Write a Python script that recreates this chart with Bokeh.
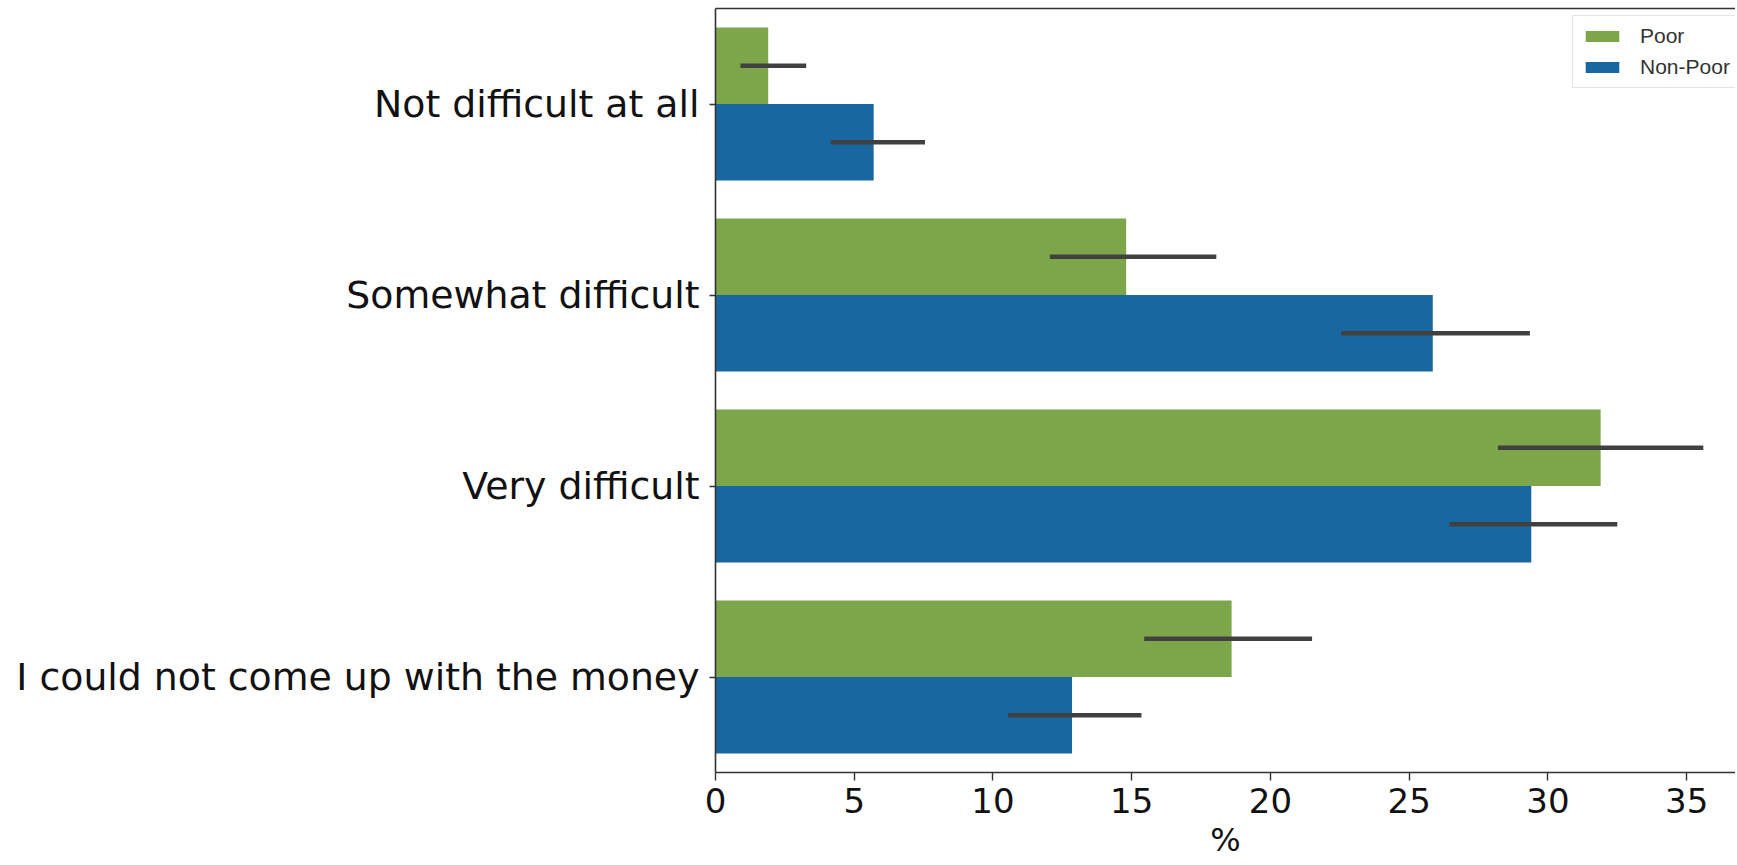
from bokeh.plotting import figure
from bokeh.models import ColumnDataSource, FactorRange, Range1d, LinearAxis, FixedTicker, Legend, LegendItem
from bokeh.transform import dodge
from bokeh.embed import file_html
from bokeh.resources import INLINE

categories = ["Not difficult at all", "Somewhat difficult", "Very difficult",
              "I could not come up with the money"]
poor = [1.9, 14.8, 31.9, 18.6]
poor_lo = [0.9, 12.05, 28.2, 15.45]
poor_hi = [3.27, 18.05, 35.6, 21.5]
nonpoor = [5.7, 25.85, 29.4, 12.85]
nonpoor_lo = [4.15, 22.55, 26.45, 10.55]
nonpoor_hi = [7.55, 29.35, 32.5, 15.35]
x_ticks = [0, 5, 10, 15, 20, 25, 30, 35]

GREEN = "#7da54a"
BLUE = "#1967a0"
ERR = "#404040"

src = ColumnDataSource(dict(cat=categories, poor=poor, poor_lo=poor_lo, poor_hi=poor_hi,
                            nonpoor=nonpoor, nonpoor_lo=nonpoor_lo, nonpoor_hi=nonpoor_hi))

p = figure(y_range=FactorRange(factors=categories[::-1], range_padding=0),
           x_range=Range1d(0, 36.76),
           frame_width=1020, frame_height=764,
           min_border_left=715, min_border_right=0, min_border_top=8, min_border_bottom=0,
           output_backend="svg", toolbar_location=None)
p.outline_line_color = None
p.grid.grid_line_color = None

rp = p.hbar(y=dodge("cat", 0.2, range=p.y_range), right="poor", left=0, height=0.4,
            source=src, fill_color=GREEN, line_color=None)
rn = p.hbar(y=dodge("cat", -0.2, range=p.y_range), right="nonpoor", left=0, height=0.4,
            source=src, fill_color=BLUE, line_color=None)
p.segment(x0="poor_lo", x1="poor_hi", y0=dodge("cat", 0.2, range=p.y_range),
          y1=dodge("cat", 0.2, range=p.y_range), source=src, line_color=ERR, line_width=4.5)
p.segment(x0="nonpoor_lo", x1="nonpoor_hi", y0=dodge("cat", -0.2, range=p.y_range),
          y1=dodge("cat", -0.2, range=p.y_range), source=src, line_color=ERR, line_width=4.5)

# x axis
xa = p.xaxis[0]
xa.ticker = FixedTicker(ticks=x_ticks)
xa.minor_tick_line_color = None
xa.major_tick_out = 8
xa.major_tick_in = 0
xa.major_label_text_font = "DejaVu Sans"
xa.major_label_text_font_size = "34px"
xa.major_label_text_color = "#111111"
xa.major_label_standoff = 7
xa.axis_label = "%"
xa.axis_label_text_font = "DejaVu Sans"
xa.axis_label_text_font_size = "32px"
xa.axis_label_text_font_style = "normal"
xa.axis_label_text_color = "#111111"
xa.axis_label_standoff = 5
xa.axis_line_color = "#333333"
xa.axis_line_width = 1.6
xa.major_tick_line_color = "#333333"
xa.major_tick_line_width = 1.4

# y axis
ya = p.yaxis[0]
ya.major_tick_out = 6
ya.major_tick_in = 0
ya.minor_tick_line_color = None
ya.major_label_text_font = "DejaVu Sans"
ya.major_label_text_font_size = "37.8px"
ya.major_label_text_color = "#111111"
ya.major_label_standoff = 10
ya.axis_line_color = "#333333"
ya.axis_line_width = 1.6
ya.major_tick_line_color = "#333333"
ya.major_tick_line_width = 1.4

# top spine
top = LinearAxis(ticker=FixedTicker(ticks=[]), major_label_text_font_size="0px",
                 major_tick_line_color=None, minor_tick_line_color=None,
                 axis_line_color="#333333", axis_line_width=1.6)
p.add_layout(top, "above")

legend = Legend(items=[LegendItem(label="Poor", renderers=[rp]),
                       LegendItem(label="Non-Poor", renderers=[rn])],
                location=(857, 684))
legend.padding = 8
legend.spacing = 7
legend.glyph_width = 42
legend.glyph_height = 14
legend.label_height = 24
legend.label_standoff = 17
legend.label_text_font = "Liberation Sans"
legend.label_text_font_size = "21px"
legend.label_text_color = "#333333"
legend.border_line_color = "#cccccc"
legend.border_line_width = 1
legend.background_fill_alpha = 0.9
p.add_layout(legend)

open("out.html", "w").write(file_html(p, INLINE))
